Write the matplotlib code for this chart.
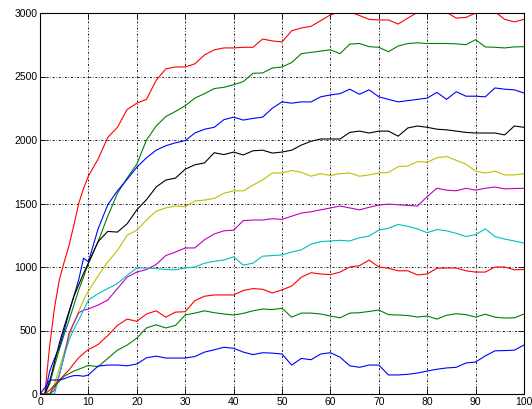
"""Ten growth curves, old MATLAB look (dash-dot grid, ticks inside, boxed axes)."""
import matplotlib
matplotlib.use("Agg")
import matplotlib.pyplot as plt

# common sample positions: every unit up to 10, then every 2
x = list(range(0, 11)) + list(range(12, 101, 2))

red_top = [0, 0, 380, 680, 900, 1040, 1170, 1330, 1500, 1620, 1715,
           1850, 2020, 2100, 2240, 2290, 2320, 2470, 2560, 2575, 2575, 2600, 2670, 2710, 2725,
           2725, 2730, 2730, 2795, 2780, 2772, 2860, 2882, 2895, 2940, 2985, 3010, 3010, 2980,
           2950, 2945, 2945, 2913, 2960, 3005, 3010, 3010, 3005, 2960, 2965, 3000, 3010, 3010,
           2950, 2930, 2950]
green_top = [0, 0, 80, 220, 350, 470, 580, 700, 820, 920, 1030,
             1200, 1400, 1580, 1700, 1810, 2000, 2110, 2185, 2225, 2270, 2330, 2365, 2405, 2415,
             2435, 2460, 2525, 2528, 2567, 2575, 2610, 2680, 2690, 2700, 2710, 2680, 2755, 2760,
             2735, 2730, 2695, 2740, 2760, 2765, 2760, 2760, 2760, 2757, 2750, 2790, 2733, 2730,
             2725, 2733, 2735]
blue_top = [0, 0, 180, 280, 370, 500, 640, 770, 900, 1070, 1040,
            1300, 1490, 1600, 1690, 1785, 1860, 1920, 1955, 1978, 1995, 2055, 2085, 2100, 2160,
            2180, 2157, 2170, 2180, 2250, 2300, 2290, 2300, 2300, 2340, 2355, 2365, 2400, 2360,
            2395, 2340, 2320, 2300, 2310, 2320, 2330, 2375, 2320, 2380, 2345, 2345, 2340, 2410,
            2400, 2395, 2370]
black = [0, 0, 100, 250, 400, 530, 650, 770, 860, 950, 1030,
         1200, 1280, 1275, 1340, 1450, 1530, 1630, 1685, 1700, 1770, 1805, 1820, 1900, 1885,
         1905, 1882, 1915, 1920, 1897, 1905, 1920, 1960, 1990, 2008, 2008, 2008, 2060, 2070,
         2055, 2070, 2070, 2030, 2095, 2110, 2100, 2085, 2080, 2070, 2060, 2055, 2055, 2055,
         2040, 2110, 2100]
yellow = [0, 0, 0, 80, 200, 330, 450, 560, 650, 740, 810,
          930, 1040, 1130, 1250, 1290, 1370, 1440, 1465, 1480, 1475, 1520, 1527, 1540, 1580,
          1600, 1600, 1645, 1685, 1740, 1740, 1760, 1745, 1715, 1735, 1720, 1735, 1740, 1715,
          1725, 1740, 1745, 1790, 1795, 1830, 1825, 1860, 1870, 1840, 1810, 1755, 1740, 1755,
          1725, 1725, 1735]
magenta = [0, 0, 0, 30, 150, 300, 480, 560, 640, 660, 670,
           700, 740, 830, 920, 960, 980, 1020, 1090, 1118, 1150, 1150, 1215, 1260, 1285,
           1290, 1365, 1370, 1370, 1380, 1375, 1400, 1425, 1435, 1450, 1465, 1480, 1465, 1450,
           1470, 1488, 1495, 1490, 1485, 1480, 1555, 1620, 1605, 1600, 1620, 1605, 1620, 1630,
           1615, 1618, 1620]
cyan = [0, 0, 0, 0, 150, 300, 425, 510, 583, 660, 740,
        790, 830, 870, 935, 992, 992, 988, 980, 978, 992, 1000, 1030, 1045, 1055,
        1080, 1015, 1030, 1085, 1090, 1095, 1118, 1135, 1180, 1200, 1205, 1210, 1205, 1230,
        1244, 1290, 1305, 1335, 1320, 1300, 1270, 1295, 1285, 1265, 1240, 1255, 1300, 1240,
        1220, 1205, 1188]
red_low = [0, 0, 30, 70, 110, 150, 190, 240, 285, 320, 350,
           390, 460, 540, 590, 572, 630, 655, 605, 645, 648, 735, 770, 780, 780,
           780, 815, 830, 825, 795, 820, 850, 920, 955, 945, 940, 960, 1000, 1010,
           1055, 1000, 990, 970, 970, 937, 945, 990, 992, 992, 970, 960, 960, 1000,
           1000, 978, 980]
green_low = [0, 0, 0, 60, 100, 140, 160, 180, 195, 210, 225,
             215, 280, 345, 385, 440, 520, 545, 520, 540, 622, 637, 655, 640, 630,
             622, 635, 655, 669, 665, 675, 605, 637, 637, 630, 614, 600, 637, 640,
             650, 661, 625, 622, 618, 606, 614, 590, 620, 632, 625, 606, 628, 605,
             598, 600, 630]
blue_low = [0, 50, 110, 110, 110, 120, 135, 145, 145, 140, 150,
            220, 228, 228, 222, 236, 285, 298, 283, 283, 283, 295, 330, 348, 368,
            360, 330, 310, 325, 322, 315, 228, 280, 270, 315, 325, 290, 222, 210,
            228, 228, 150, 150, 155, 165, 181, 195, 205, 210, 244, 252, 300, 340,
            342, 345, 386]

series = [red_top, green_top, blue_top, black, yellow, magenta, cyan, red_low, green_low, blue_low]
colors = ["#ff0000", "#008000", "#0000ff", "#000000", "#bfbf00", "#bf00bf", "#00bfbf",
          "#ff0000", "#008000", "#0000ff"]

plt.rcParams["font.family"] = ["Liberation Sans", "DejaVu Sans"]

fig = plt.figure(figsize=(5.32, 4.09), dpi=100)
ax = fig.add_axes([40 / 532, 15 / 409, 484 / 532, 381 / 409])
for ys, c in zip(series, colors):
    ax.plot(x, ys, color=c, lw=0.8)

ax.set_xlim(0, 100)
ax.set_ylim(0, 3000)
ax.set_xticks(range(0, 101, 10))
ax.set_yticks(range(0, 3001, 500))
ax.grid(True, color="black", lw=0.6, linestyle=(0, (2.5, 2, 0.8, 2)))
ax.tick_params(direction="in", length=4, width=0.6, labelsize=7.5, top=True, right=True, pad=2)
for s in ax.spines.values():
    s.set_linewidth(0.8)

fig.savefig("out.png", facecolor="white")
